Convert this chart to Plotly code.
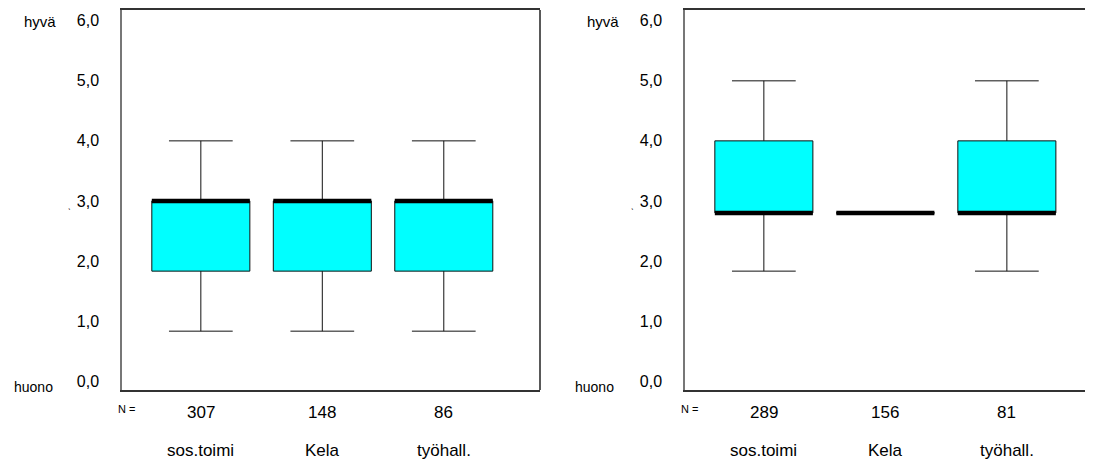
import plotly.graph_objects as go

# ---------------- data ----------------
categories = ["sos.toimi", "Kela", "työhall."]
n_left = [307, 148, 86]
n_right = [289, 156, 81]

left_lower = [0.83, 0.83, 0.83]
left_q1 = [1.83, 1.83, 1.83]
left_median = [3.0, 3.0, 3.0]
left_q3 = [3.0, 3.0, 3.0]
left_upper = [4.0, 4.0, 4.0]

right_lower = [1.83, 2.8, 1.83]
right_q1 = [2.8, 2.8, 2.8]
right_median = [2.8, 2.8, 2.8]
right_q3 = [4.0, 2.8, 4.0]
right_upper = [5.0, 2.8, 5.0]

y_ticks = [0, 1, 2, 3, 4, 5, 6]
y_ticktext = ["0,0", "1,0", "2,0", "3,0", "4,0", "5,0", "6,0"]

# ---------------- style ----------------
OFF = 8  # default page body margin
W, H = 1093 - OFF, 463 - OFF
FONT = "Liberation Sans, Arial, sans-serif"
BOX_W = 0.807
CYAN = "#00FFFF"


def px_x(p):
    return (p - OFF) / W


def px_y(p):
    return (H - (p - OFF)) / H


dom_y = [px_y(390), px_y(10)]
dom_left = [px_x(122), px_x(540)]
dom_right = [px_x(685), 1.0]

fig = go.Figure()

panels = [
    ("x", "y", n_left, left_lower, left_q1, left_median, left_q3, left_upper),
    ("x2", "y2", n_right, right_lower, right_q1, right_median, right_q3, right_upper),
]

for xa, ya, ns, lo, q1, med, q3, up in panels:
    xs = list(range(len(categories)))
    fig.add_trace(go.Box(
        x=xs, q1=q1, median=med, q3=q3, lowerfence=lo, upperfence=up,
        width=BOX_W, whiskerwidth=0.65, fillcolor=CYAN,
        line=dict(color="#111111", width=1), boxpoints=False,
        xaxis=xa, yaxis=ya, showlegend=False, hoverinfo="skip",
    ))
    mx, my = [], []
    for i, m in enumerate(med):
        mx += [i - BOX_W / 2, i + BOX_W / 2, None]
        my += [m, m, None]
    fig.add_trace(go.Scatter(
        x=mx, y=my, mode="lines", line=dict(color="black", width=4.5),
        xaxis=xa, yaxis=ya, showlegend=False, hoverinfo="skip",
    ))

yaxis_common = dict(
    range=[-0.15, 6.18], tickvals=y_ticks, ticktext=y_ticktext,
    showgrid=False, zeroline=False, showline=True, linecolor="#777777",
    linewidth=1.5, ticks="", ticklabelstandoff=18,
    tickfont=dict(family=FONT, size=16, color="black"), domain=dom_y,
)
xaxis_common = dict(
    showgrid=False, zeroline=False, showline=True, linecolor="#333333",
    linewidth=1.5, mirror=True, showticklabels=False, ticks="",
)

fig.update_layout(
    width=W, height=H, margin=dict(l=0, r=0, t=0, b=0),
    paper_bgcolor="white", plot_bgcolor="white",
    font=dict(family=FONT, size=15, color="black"),
    xaxis=dict(xaxis_common, domain=dom_left, range=[-0.649, 2.792], anchor="y"),
    yaxis=dict(yaxis_common, anchor="x"),
    xaxis2=dict(xaxis_common, domain=dom_right, range=[-0.649, 2.709], anchor="y2"),
    yaxis2=dict(yaxis_common, anchor="x2"),
)

# right border of left panel (black)
fig.add_shape(type="line", xref="x domain", yref="y domain", x0=1, x1=1, y0=0, y1=1,
              line=dict(color="#222222", width=1.5))

ann = []
for xa, ns, hx, hux, nx in [("x", n_left, 22, 12, 116), ("x2", n_right, 585, 573, 679)]:
    ann.append(dict(text="hyvä", xref="paper", yref="paper", x=px_x(hx), y=px_y(21),
                    xanchor="left", yanchor="middle", showarrow=False,
                    font=dict(family=FONT, size=15)))
    ann.append(dict(text="huono", xref="paper", yref="paper", x=px_x(hux), y=px_y(387),
                    xanchor="left", yanchor="middle", showarrow=False,
                    font=dict(family=FONT, size=14)))
    ann.append(dict(text="N =", xref="paper", yref="paper", x=px_x(nx), y=px_y(409),
                    xanchor="left", yanchor="middle", showarrow=False,
                    font=dict(family=FONT, size=11)))
    ann.append(dict(text="ˎ", xref="paper", yref="paper",
                    x=px_x(hx + 47), y=px_y(205), xanchor="center", yanchor="middle",
                    showarrow=False, font=dict(family=FONT, size=9)))
    for i, (n, c) in enumerate(zip(ns, categories)):
        ann.append(dict(text=str(n), xref=xa, yref="paper", x=i, y=px_y(412),
                        xanchor="center", yanchor="middle", showarrow=False,
                        font=dict(family=FONT, size=17)))
        ann.append(dict(text=c, xref=xa, yref="paper", x=i, y=px_y(450),
                        xanchor="center", yanchor="middle", showarrow=False,
                        font=dict(family=FONT, size=17)))
fig.update_layout(annotations=ann)

fig.write_html("out.html")
